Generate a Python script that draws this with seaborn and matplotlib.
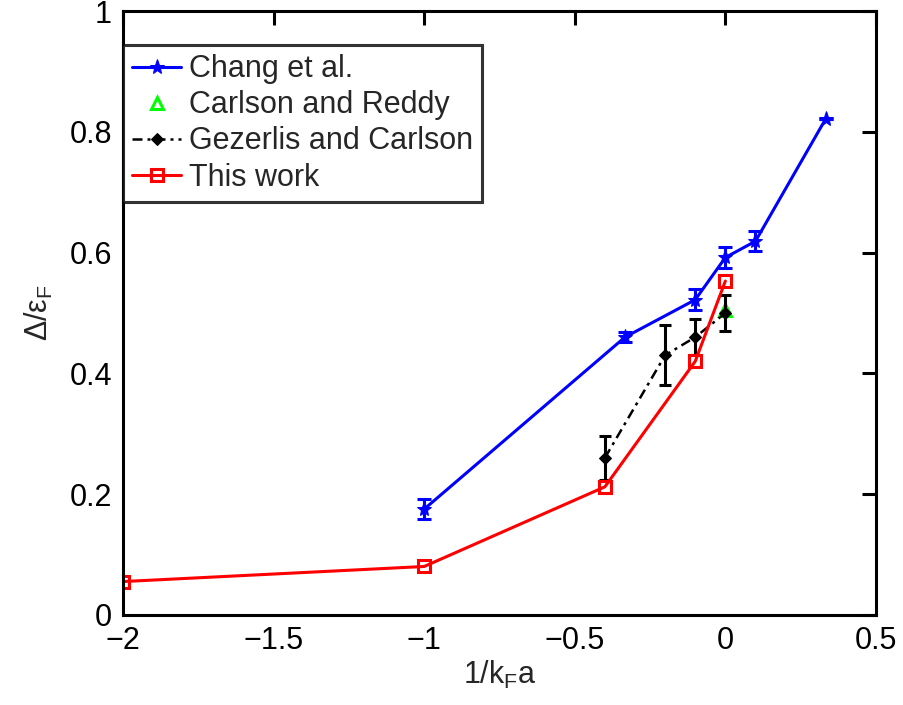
import matplotlib
matplotlib.use("Agg")
import matplotlib.pyplot as plt
import numpy as np
import pandas as pd
import seaborn as sns

# Pairing gap vs. interaction strength, several calculations
chang_x = [-1.0, -1/3, -0.1, 0.0, 0.1, 1/3]
chang_y = [0.175, 0.46, 0.522, 0.592, 0.619, 0.822]
chang_err = [0.017, 0.008, 0.017, 0.018, 0.017, 0.0]

reddy_x = [0.0]
reddy_y = [0.505]

gezerlis_x = [-0.4, -0.2, -0.1, 0.0]
gezerlis_y = [0.26, 0.43, 0.46, 0.50]
gezerlis_err = [0.037, 0.05, 0.03, 0.03]

work_x = [-2.0, -1.0, -0.4, -0.1, 0.0]
work_y = [0.055, 0.08, 0.212, 0.42, 0.553]

labels = ["Chang et al.", "Carlson and Reddy", "Gezerlis and Carlson", "This work"]

sns.set_style("white")
plt.rcParams["font.family"] = ["Liberation Sans", "DejaVu Sans"]
plt.rcParams["mathtext.fontset"] = "custom"
plt.rcParams["mathtext.rm"] = "Liberation Sans"
plt.rcParams["mathtext.it"] = "Liberation Sans"

fig = plt.figure(figsize=(9.04, 7.05), dpi=100)
ax = fig.add_axes([0.136, 0.128, 0.833, 0.856])

df_chang = pd.DataFrame({"x": chang_x, "y": chang_y})
df_reddy = pd.DataFrame({"x": reddy_x, "y": reddy_y})
df_gez = pd.DataFrame({"x": gezerlis_x, "y": gezerlis_y})
df_work = pd.DataFrame({"x": work_x, "y": work_y})

lw = 2.2
sns.lineplot(data=df_chang, x="x", y="y", ax=ax, color="#0000ff", lw=lw,
             marker="*", markersize=11, markeredgecolor="#0000ff",
             estimator=None, sort=False, label=labels[0])
ax.errorbar(chang_x, chang_y, yerr=chang_err, fmt="none", ecolor="#0000ff",
            elinewidth=lw, capsize=5, capthick=lw)

sns.lineplot(data=df_reddy, x="x", y="y", ax=ax, color="#00ff00", lw=0,
             marker="^", markersize=9, markerfacecolor="none",
             markeredgecolor="#00ff00", markeredgewidth=2.2,
             estimator=None, sort=False, label=labels[1])

sns.lineplot(data=df_gez, x="x", y="y", ax=ax, color="black", lw=1.8,
             dashes=False, marker="D", markersize=6, markeredgecolor="black",
             estimator=None, sort=False, label=labels[2])
ax.lines[-1].set_dashes([4, 2, 1.2, 2])
ax.errorbar(gezerlis_x, gezerlis_y, yerr=gezerlis_err, fmt="none",
            ecolor="black", elinewidth=lw, capsize=4, capthick=lw)

sns.lineplot(data=df_work, x="x", y="y", ax=ax, color="#ff0000", lw=lw,
             marker="s", markersize=8, markerfacecolor="none",
             markeredgecolor="#ff0000", markeredgewidth=2.2,
             estimator=None, sort=False, label=labels[3])

ax.set_xlim(-2, 0.5)
ax.set_ylim(0, 1)
ax.set_xticks([-2, -1.5, -1, -0.5, 0, 0.5])
ax.set_xticklabels(["\u22122", "\u22121.5", "\u22121", "\u22120.5", "0", "0.5"])
ax.set_yticks([0, 0.2, 0.4, 0.6, 0.8, 1])
ax.set_yticklabels(["0", "0.2", "0.4", "0.6", "0.8", "1"])

ax.tick_params(direction="in", length=10, width=2.2, labelsize=22,
               top=True, right=True, pad=8, colors="black")
for s in ax.spines.values():
    s.set_visible(True)
    s.set_color("black")
    s.set_linewidth(2.2)

ax.set_xlabel(r"1/k$_\mathregular{F}$a", fontsize=22, labelpad=2)
ax.set_ylabel(r"$\Delta$/$\epsilon_\mathregular{F}$", fontsize=22, labelpad=10)

leg = ax.legend(loc="upper left", bbox_to_anchor=(0.0, 0.944), borderaxespad=0,
                fontsize=22, frameon=True, fancybox=False, handlelength=1.6,
                handletextpad=0.25, labelspacing=0.2, borderpad=0.3)
leg.get_frame().set_edgecolor("black")
leg.get_frame().set_linewidth(2.2)

fig.savefig("out.png", dpi=100, facecolor="white")
